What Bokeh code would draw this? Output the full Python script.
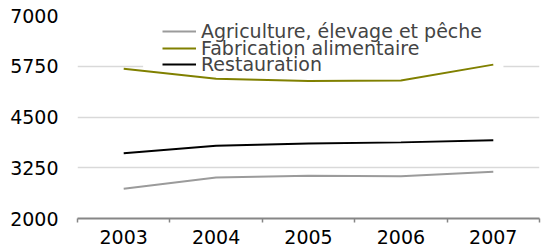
from bokeh.plotting import figure
from bokeh.models import Range1d, FixedTicker, Legend, LegendItem, ColumnDataSource, BoxAnnotation
from bokeh.embed import file_html
from bokeh.resources import INLINE

years = ["2003", "2004", "2005", "2006", "2007"]
agriculture = [2735, 3010, 3055, 3040, 3150]
fabrication = [5690, 5440, 5385, 5400, 5790]
restauration = [3605, 3790, 3850, 3875, 3930]
y_ticks = [2000, 3250, 4500, 5750, 7000]
series_labels = ["Agriculture, élevage et pêche", "Fabrication alimentaire", "Restauration"]

FONT = "DejaVu Sans"
FS = "19px"

# category slots: each year occupies one unit, centre at index + 0.5
slot_centres = [i + 0.5 for i in range(len(years))]
slot_edges = list(range(len(years) + 1))

src = ColumnDataSource(dict(x=slot_centres, year=years, agri=agriculture,
                            fab=fabrication, rest=restauration))

p = figure(x_range=Range1d(0, len(years)), y_range=Range1d(2000, 7000),
           width=546, height=252, output_backend="svg", toolbar_location=None,
           min_border_left=77, min_border_right=7, min_border_top=15, min_border_bottom=34,
           outline_line_color=None)

xaxis = p.xaxis[0]
xaxis.ticker = FixedTicker(ticks=slot_centres, minor_ticks=slot_edges)
xaxis.major_label_overrides = {c: y for c, y in zip(slot_centres, years)}
xaxis.axis_line_color = "#868686"
xaxis.axis_line_width = 2
xaxis.major_tick_line_color = None
xaxis.major_tick_out = 4
xaxis.major_tick_in = 0
xaxis.minor_tick_line_color = "#868686"
xaxis.minor_tick_line_width = 1.5
xaxis.minor_tick_in = 0
xaxis.minor_tick_out = 4
xaxis.major_label_standoff = 7
xaxis.major_label_text_font = FONT
xaxis.major_label_text_font_size = FS
xaxis.major_label_text_color = "black"

p.yaxis.ticker = y_ticks
p.yaxis.axis_line_color = None
p.yaxis.major_tick_line_color = None
p.yaxis.minor_tick_line_color = None
p.yaxis.major_tick_out = 0
p.yaxis.major_tick_in = 0
p.yaxis.major_label_standoff = 19
p.yaxis.major_label_text_font = FONT
p.yaxis.major_label_text_font_size = FS
p.yaxis.major_label_text_color = "black"

p.xgrid.visible = False
p.ygrid.grid_line_color = "#d9d9d9"
p.ygrid.grid_line_width = 1.5

# white legend backdrop, below the series lines (hides the gridline like the original)
p.add_layout(BoxAnnotation(left=0.71, right=4.61, bottom=5690, top=6850,
                           fill_color="white", fill_alpha=1, line_color=None,
                           level="underlay"))

r1 = p.line("x", "agri", source=src, line_color="#9b9b9b", line_width=2)
r2 = p.line("x", "fab", source=src, line_color="#808000", line_width=2)
r3 = p.line("x", "rest", source=src, line_color="#000000", line_width=2)

renderers = [r1, r2, r3]
legend_bottoms = [176, 159, 143]
for label, rend, vy in zip(series_labels, renderers, legend_bottoms):
    lg = Legend(items=[LegendItem(label=label, renderers=[rend])],
                location=(85, vy), glyph_width=34, glyph_height=14,
                label_height=14, label_standoff=5, padding=0, spacing=0, margin=0,
                label_text_font=FONT, label_text_font_size=FS,
                border_line_color=None, background_fill_alpha=0)
    p.add_layout(lg)

open("out.html", "w").write(file_html(p, INLINE))
